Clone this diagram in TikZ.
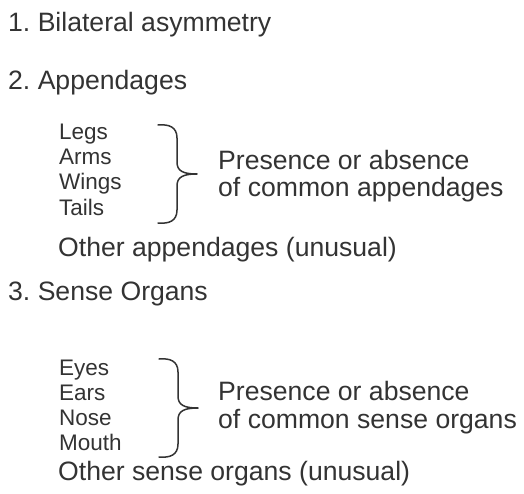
\documentclass[tikz,border=0pt]{standalone}
\usepackage{fontspec}
\setmainfont{Liberation Sans}
\usetikzlibrary{positioning}
\frenchspacing
\definecolor{textgray}{gray}{0.2}
\tikzset{
  heading/.style={anchor=base west, inner sep=0pt, text=textgray,
    font=\fontsize{26.6}{28}\selectfont},
  organ/.style={anchor=base west, inner sep=0pt, text=textgray,
    font=\fontsize{22.5}{24}\selectfont},
  bracepath/.style={draw=textgray, line width=1.5pt, line cap=round, line join=round},
  curlybrace/.pic={
    \draw[bracepath] (-19,-49) .. controls (-8,-50) and (0,-47) .. (0,-36)
      -- (0,-12) .. controls (0,-3) and (6,0) .. (20,0)
      .. controls (6,0) and (0,3) .. (0,12)
      -- (0,36) .. controls (0,47) and (-8,50) .. (-19,49);
  },
}

\begin{document}
\begin{tikzpicture}[x=1pt,y=-1pt]
  \useasboundingbox (0,0) rectangle (524,494);

  % 1. symmetry
  \node[heading] (sym) at (8,32) {1. Bilateral asymmetry};

  % 2. appendages
  \node[heading] (app) at (8,90) {2. Appendages};
  \foreach \name/\txt/\y in {legs/Legs/140, arms/Arms/165, wings/Wings/190, tails/Tails/215}
    \node[organ] (\name) at (59,\y) {\txt};
  \pic (appbrace) at (177,174) {curlybrace};
  \node[heading] (apppres) at (218,170) {Presence or absence};
  \node[heading] (appcommon) at (218,197) {of common appendages};
  \node[heading] (appother) at (58,256) {Other appendages (unusual)};

  % 3. sense organs
  \node[heading] (sense) at (8,300) {3. Sense Organs};
  \foreach \name/\txt/\y in {eyes/Eyes/375, ears/Ears/400, nose/Nose/425, mouth/Mouth/450}
    \node[organ] (\name) at (59,\y) {\txt};
  \pic (sensebrace) at (178,408) {curlybrace};
  \node[heading] (sensepres) at (218,400) {Presence or absence};
  \node[heading] (sensecommon) at (218,428) {of common sense organs};
  \node[heading] (senseother) at (58,480) {Other sense organs (unusual)};
\end{tikzpicture}
\end{document}
